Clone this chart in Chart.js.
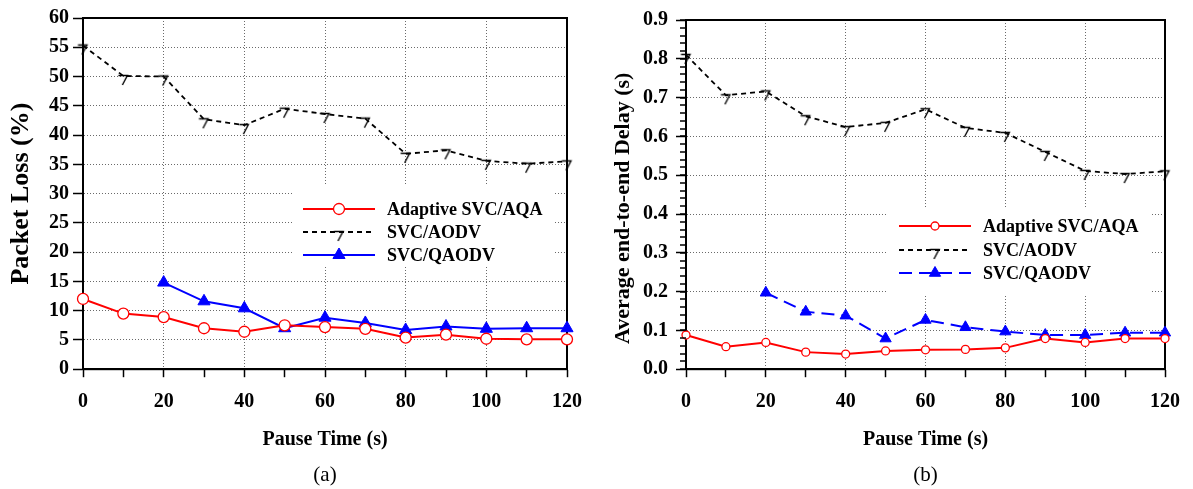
<!DOCTYPE html>
<html><head><meta charset="utf-8">
<script src="https://cdn.jsdelivr.net/npm/chart.js@4/dist/chart.umd.min.js"></script>
<style>
html,body{margin:0;padding:0;background:#fff;}
#wrap{position:relative;width:1193px;height:489px;overflow:hidden;}
canvas{position:absolute;top:0;}
</style></head><body>
<div id="wrap">
<canvas id="ca" width="595" height="489" style="left:0"></canvas>
<canvas id="cb" width="598" height="489" style="left:595px"></canvas>
</div>
<script>
// ---- data ----
const pauseTimes = [0, 10, 20, 30, 40, 50, 60, 70, 80, 90, 100, 110, 120];
const seriesNames = ['Adaptive SVC/AQA', 'SVC/AODV', 'SVC/QAODV'];
const xTickLabels = [0, 20, 40, 60, 80, 100, 120];

const lossAQA   = [12.0, 9.5, 8.9, 7.0, 6.4, 7.5, 7.2, 6.9, 5.4, 5.9, 5.2, 5.1, 5.1];
const lossAODV  = [55.3, 50.1, 50.0, 42.7, 41.7, 44.5, 43.6, 42.8, 36.8, 37.4, 35.6, 35.1, 35.5];
const lossQAODV = [null, null, 14.8, 11.6, 10.4, 7.0, 8.8, 7.9, 6.7, 7.3, 6.9, 7.0, 7.0];

const delayAQA   = [0.088, 0.058, 0.069, 0.044, 0.039, 0.047, 0.050, 0.051, 0.055, 0.079, 0.069, 0.079, 0.079];
const delayAODV  = [0.81, 0.706, 0.716, 0.652, 0.624, 0.635, 0.67, 0.622, 0.609, 0.56, 0.511, 0.503, 0.51];
const delayQAODV = [null, null, 0.197, 0.148, 0.138, 0.079, 0.127, 0.108, 0.097, 0.088, 0.088, 0.094, 0.094];

const panelTitles = ['(a)', '(b)'];
const yTitles = ['Packet Loss (%)', 'Average end-to-end Delay (s)'];
const xTitle = 'Pause Time (s)';

// ---- helpers ----
const FONT = '"Liberation Serif", "Times New Roman", serif';
Chart.defaults.font.family = FONT;
Chart.defaults.color = '#000';

function makeSeven() {
  const c = document.createElement('canvas');
  c.width = 13; c.height = 22;
  const g = c.getContext('2d');
  g.strokeStyle = '#000'; g.lineWidth = 1.4;
  g.beginPath(); g.moveTo(1.5, 10.5); g.lineTo(10.5, 10.5); g.lineTo(5.5, 20); g.stroke();
  return c;
}
const seven = makeSeven();

const pts = arr => pauseTimes.map((t, i) => ({x: t, y: arr[i]}));

function drawMarker(ctx, ds, x, y) {
  const st = ds.pointStyle, r = ds.pointRadius;
  if (st instanceof HTMLCanvasElement) {
    ctx.drawImage(st, x - st.width / 2, y - st.height / 2);
    return;
  }
  ctx.save();
  ctx.fillStyle = ds.pointBackgroundColor;
  ctx.strokeStyle = ds.pointBorderColor;
  ctx.lineWidth = ds.pointBorderWidth;
  ctx.setLineDash([]);
  ctx.beginPath();
  if (st === 'triangle') {
    let a = 0;
    ctx.moveTo(x + Math.sin(a) * r, y - Math.cos(a) * r);
    a += 2 * Math.PI / 3;
    ctx.lineTo(x + Math.sin(a) * r, y - Math.cos(a) * r);
    a += 2 * Math.PI / 3;
    ctx.lineTo(x + Math.sin(a) * r, y - Math.cos(a) * r);
    ctx.closePath();
  } else {
    ctx.arc(x, y, r, 0, Math.PI * 2);
  }
  ctx.fill(); ctx.stroke();
  ctx.restore();
}

function makeLegend(o) {
  return {
    id: 'boxLegend',
    afterDatasetsDraw(chart) {
      const ctx = chart.ctx;
      ctx.save();
      ctx.fillStyle = '#fff';
      ctx.fillRect(o.x, o.y, o.w, o.h);
      chart.data.datasets.forEach((ds, i) => {
        const y = o.rowY[i];
        ctx.save();
        ctx.strokeStyle = ds.borderColor;
        ctx.lineWidth = ds.borderWidth;
        ctx.setLineDash(ds.borderDash || []);
        ctx.beginPath(); ctx.moveTo(o.lineX0, y); ctx.lineTo(o.lineX1, y); ctx.stroke();
        ctx.restore();
        drawMarker(ctx, ds, o.markX, y);
        ctx.fillStyle = '#000';
        ctx.font = 'bold 18px ' + FONT;
        ctx.textBaseline = 'middle';
        ctx.textAlign = 'left';
        ctx.fillText(ds.label, o.textX, y + 1);
      });
      ctx.restore();
    }
  };
}

// frame round the plot area + optional minor tick marks on the y axis (positions from the y scale)
function makeFrame(minorStep, minorLen) {
  return {
    id: 'frame',
    beforeDatasetsDraw(chart) {
      const {left, top, right, bottom} = chart.chartArea;
      const ctx = chart.ctx;
      ctx.save();
      ctx.setLineDash([]);
      ctx.strokeStyle = '#000'; ctx.lineWidth = 2;
      ctx.strokeRect(left, top, right - left, bottom - top);
      ctx.restore();
    },
    afterDraw(chart) {
      if (!minorStep) return;
      const ctx = chart.ctx;
      const ys = chart.scales.y;
      const left = chart.chartArea.left;
      ctx.save();
      ctx.setLineDash([]);
      ctx.strokeStyle = '#000'; ctx.lineWidth = 1.5;
      const n = Math.round((ys.max - ys.min) / minorStep);
      for (let k = 0; k <= n; k++) {
        const py = Math.round(ys.getPixelForValue(ys.min + k * minorStep));
        ctx.beginPath(); ctx.moveTo(left - minorLen, py); ctx.lineTo(left, py); ctx.stroke();
      }
      ctx.restore();
    }
  };
}

function xScale() {
  return {
    type: 'linear', min: 0, max: 120,
    ticks: {stepSize: 10, autoSkip: false, maxRotation: 0, padding: 13,
      font: {size: 20, weight: 'bold'}, color: '#000',
      callback: v => xTickLabels.includes(v) ? String(v) : ''},
    grid: {color: c => (c.tick && xTickLabels.includes(c.tick.value)) ? '#6a6a6a' : 'rgba(0,0,0,0)',
      tickColor: '#000', tickLength: 8, tickWidth: 1.5, lineWidth: 1, tickBorderDash: []},
    border: {color: '#000', width: 2, dash: [1, 2]},
    title: {display: true, text: xTitle, font: {size: 20, weight: 'bold'}, color: '#000', padding: {top: 0, bottom: 11}},
    afterFit: s => { s.height = 93.6; }
  };
}

function panelTitle(t) {
  return {display: true, text: t, position: 'bottom', fullSize: false, color: '#000',
    font: {size: 21, weight: 'normal'}, padding: {top: 0, bottom: 1}};
}

function datasets(aqa, aodv, qaodv, small) {
  return [
    {label: seriesNames[0], data: pts(aqa), borderColor: '#ff0000', borderWidth: 2,
     pointStyle: 'circle', pointRadius: small ? 4 : 5.5, pointBackgroundColor: '#ffffff',
     pointBorderColor: '#ff0000', pointBorderWidth: 1.3, pointHoverRadius: small ? 4 : 5.5},
    {label: seriesNames[1], data: pts(aodv), borderColor: '#000000', borderWidth: 1.8, borderDash: [5, 4],
     pointStyle: seven, pointRadius: 6, pointBackgroundColor: '#000', pointBorderColor: '#000', pointBorderWidth: 1},
    {label: seriesNames[2], data: pts(qaodv), borderColor: '#0000ff', borderWidth: 2,
     borderDash: small ? [13, 7] : [],
     pointStyle: 'triangle', pointRadius: small ? 6.5 : 7, pointBackgroundColor: '#0000ff',
     pointBorderColor: '#0000ff', pointBorderWidth: 1}
  ].map(d => Object.assign({tension: 0, clip: false, spanGaps: false}, d));
}

// ---- chart (a) ----
new Chart(document.getElementById('ca'), {
  type: 'line',
  data: {datasets: datasets(lossAQA, lossAODV, lossQAODV, false)},
  options: {
    responsive: false, animation: false, devicePixelRatio: 1,
    layout: {padding: {top: 18, right: 26, bottom: 0, left: 0}},
    plugins: {legend: {display: false}, tooltip: {enabled: false}, title: panelTitle(panelTitles[0])},
    scales: {
      x: xScale(),
      y: {type: 'linear', min: 0, max: 60,
        ticks: {stepSize: 5, autoSkip: false, padding: 4, font: {size: 20, weight: 'bold'}, color: '#000'},
        grid: {color: '#6a6a6a', tickColor: '#000', tickLength: 10, tickWidth: 1.5, lineWidth: 1, tickBorderDash: []},
        border: {color: '#000', width: 2, dash: [1, 2]},
        title: {display: true, text: yTitles[0], font: {size: 26, weight: 'bold'}, color: '#000', padding: {top: 6, bottom: 0}},
        afterFit: s => { s.width = 83; }
      }
    }
  },
  plugins: [makeFrame(0, 0),
    makeLegend({x: 292, y: 186, w: 261, h: 80, rowY: [209, 232, 255], lineX0: 303, lineX1: 375, markX: 339, textX: 387})]
});

// ---- chart (b) ----
new Chart(document.getElementById('cb'), {
  type: 'line',
  data: {datasets: datasets(delayAQA, delayAODV, delayQAODV, true)},
  options: {
    responsive: false, animation: false, devicePixelRatio: 1,
    layout: {padding: {top: 18, right: 21, bottom: 0, left: 0}},
    plugins: {legend: {display: false}, tooltip: {enabled: false}, title: panelTitle(panelTitles[1])},
    scales: {
      x: xScale(),
      y: {type: 'linear', min: 0, max: 0.9,
        ticks: {stepSize: 0.1, autoSkip: false, padding: 8, font: {size: 20, weight: 'bold'}, color: '#000',
          callback: v => v.toFixed(1)},
        grid: {color: '#6a6a6a', tickColor: '#000', tickLength: 10, tickWidth: 1.5, lineWidth: 1, tickBorderDash: []},
        border: {color: '#000', width: 2, dash: [1, 2]},
        title: {display: true, text: yTitles[1] + '     ', font: {size: 22, weight: 'bold'}, color: '#000', padding: {top: 15, bottom: 0}},
        afterFit: s => { s.width = 91; }
      }
    }
  },
  plugins: [makeFrame(0.02, 6),
    makeLegend({x: 292, y: 208, w: 263, h: 86, rowY: [226, 250, 273], lineX0: 304, lineX1: 376, markX: 340, textX: 388})]
});
</script>
</body></html>
